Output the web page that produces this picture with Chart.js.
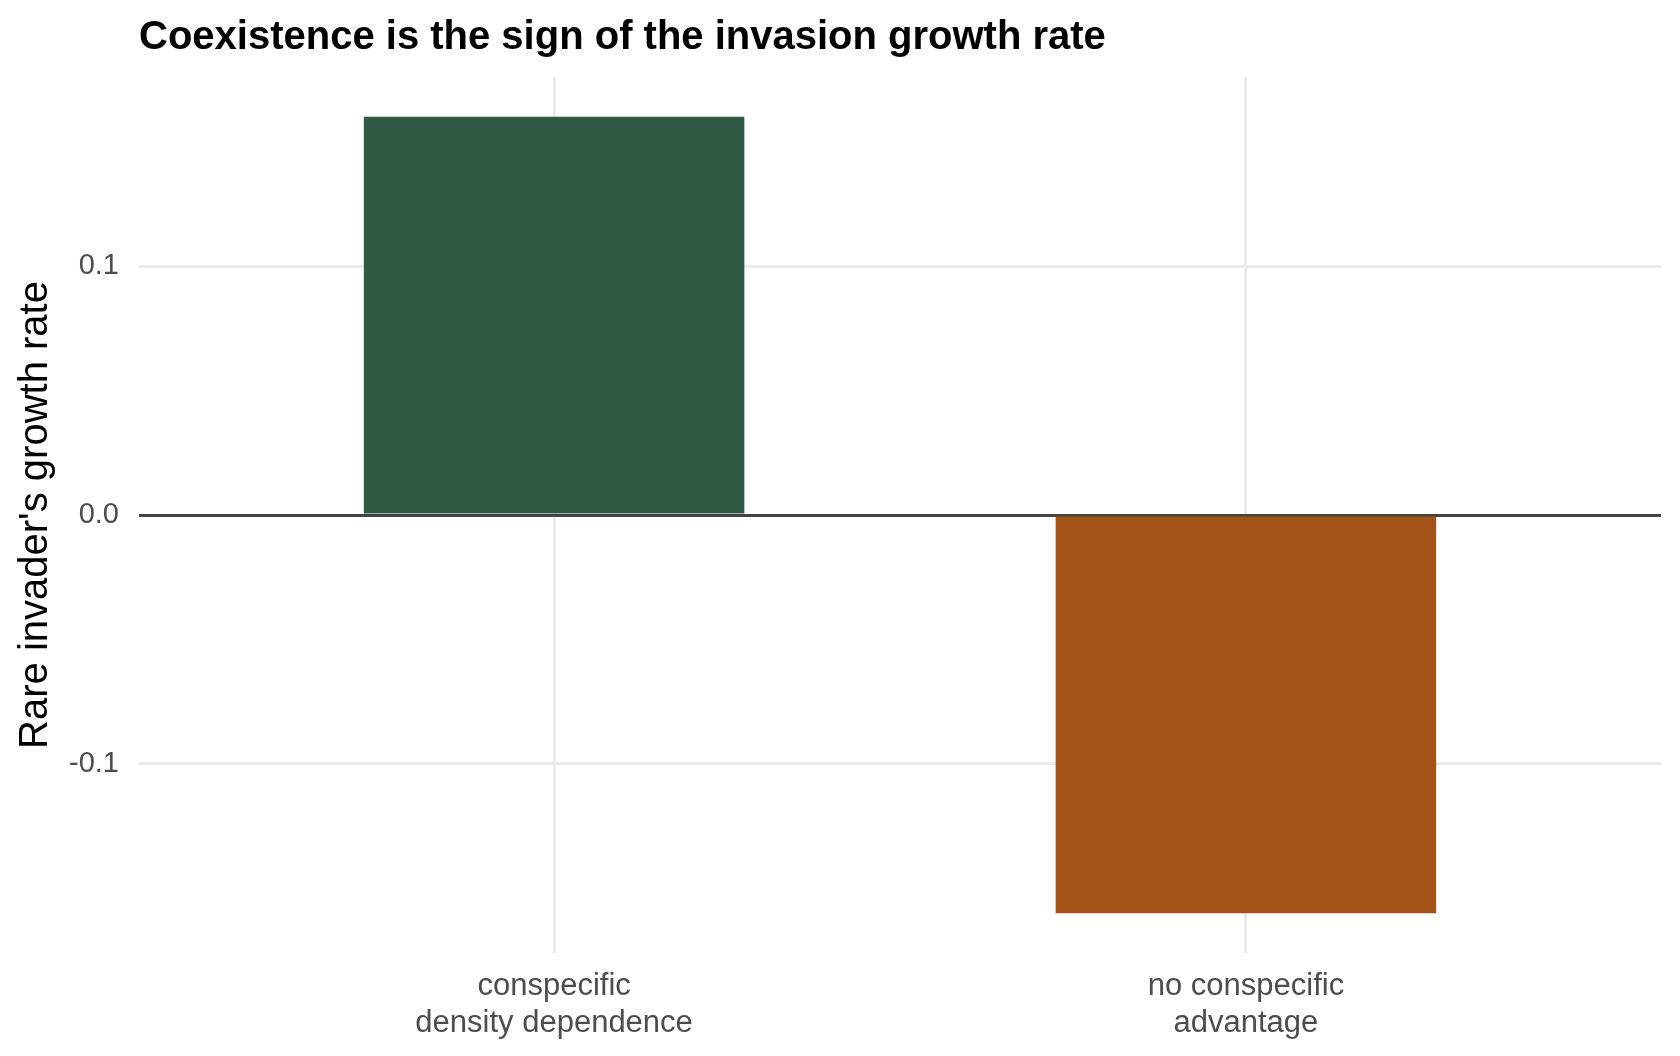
<!DOCTYPE html>
<html>
<head>
<meta charset="utf-8">
<script src="https://cdn.jsdelivr.net/npm/chart.js@4.4.0/dist/chart.umd.min.js"></script>
<style>
  body { margin: 0; background: #ffffff; }
  #wrap { width: 1680px; height: 1056px; }
</style>
</head>
<body>
<div id="wrap"><canvas id="graphC" width="1680" height="1056"></canvas></div>
<script>
// data
var categories = [["conspecific", "density dependence"], ["no conspecific", "advantage"]];
var growthRates = [0.16, -0.16];
var yTicks = [-0.1, 0.0, 0.1];
var barColors = ["#2e5a44", "#a35219"];

var fontFamily = "'Liberation Sans', Arial, Helvetica, sans-serif";

var points = [];
for (var i = 0; i < categories.length; i++) {
    points.push({ x: i + 1, y: growthRates[i] });
}

ctx = document.getElementById("graphC").getContext('2d');
myChart = new Chart(ctx, {
    type: 'bar',
    data: {
        datasets: [{
            label: "growth rate",
            data: points,
            backgroundColor: barColors,
            borderWidth: 0,
            barPercentage: 0.55,
            categoryPercentage: 1.0
        }]
    },
    options: {
        responsive: false,
        animation: false,
        layout: { padding: { left: 0, right: 19, top: 0, bottom: 0 } },
        plugins: {
            legend: { display: false },
            tooltip: { enabled: false },
            title: {
                display: true,
                text: "Coexistence is the sign of the invasion growth rate",
                align: 'start',
                fullSize: false,
                color: '#000000',
                font: { family: fontFamily, size: 40, weight: 'bold' },
                padding: { top: 14, bottom: 15 }
            }
        },
        scales: {
            x: {
                type: 'linear',
                min: 0.4,
                max: 2.6,
                offset: false,
                border: { display: false },
                grid: { color: '#ebebeb', lineWidth: 3, drawTicks: false, offset: false },
                afterBuildTicks: function (scale) {
                    scale.ticks = categories.map(function (c, i) { return { value: i + 1 }; });
                },
                afterFit: function (scale) { scale.height = 103; },
                ticks: {
                    padding: 15,
                    color: '#4d4d4d',
                    maxRotation: 0,
                    autoSkip: false,
                    font: { family: fontFamily, size: 31 },
                    callback: function (value) { return categories[Math.round(value) - 1]; }
                }
            },
            y: {
                min: -0.176,
                max: 0.176,
                border: { display: false },
                grid: {
                    drawTicks: false,
                    lineWidth: 3,
                    color: function (c) { return c.tick && c.tick.value === 0 ? '#444444' : '#ebebeb'; }
                },
                afterBuildTicks: function (scale) {
                    scale.ticks = yTicks.map(function (v) { return { value: v }; });
                },
                afterFit: function (scale) { scale.width = 139; },
                ticks: {
                    padding: 20,
                    color: '#4d4d4d',
                    font: { family: fontFamily, size: 29 },
                    callback: function (value) { return value.toFixed(1); }
                },
                title: {
                    display: true,
                    text: "Rare invader's growth rate",
                    color: '#000000',
                    font: { family: fontFamily, size: 40 },
                    padding: { top: 12, bottom: 0 }
                }
            }
        }
    }
});
</script>
</body>
</html>
